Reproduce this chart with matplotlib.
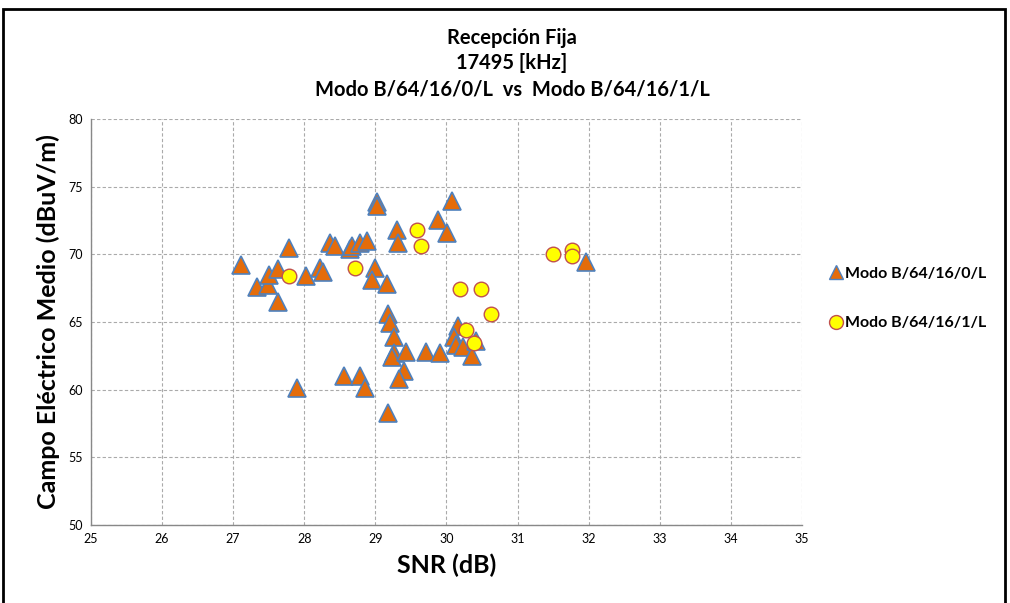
import matplotlib
matplotlib.use('Agg')
import matplotlib.pyplot as plt
from matplotlib.lines import Line2D
from matplotlib.patches import Rectangle

plt.rcParams['font.family'] = ['Lato', 'DejaVu Sans']

# Modo B/64/16/0/L
snr_0 = [27.11, 27.78, 27.34, 27.49, 27.50, 27.63, 27.63, 28.03, 28.22, 28.27,
         28.36, 28.43, 28.64, 28.67, 28.79, 28.88, 29.03, 29.03, 28.99, 28.95,
         29.16, 29.31, 29.32, 29.88, 30.01, 30.08, 29.18, 29.20, 29.26, 29.26,
         29.24, 29.43, 29.41, 29.34, 29.18, 28.56, 28.78, 28.85, 27.90, 29.71,
         29.91, 30.16, 30.10, 30.14, 30.23, 30.36, 30.42, 31.97]
field_0 = [69.2, 70.5, 67.6, 67.7, 68.5, 68.9, 66.45, 68.4, 69.0, 68.7,
           70.8, 70.6, 70.4, 70.6, 70.8, 71.0, 73.9, 73.6, 69.0, 68.1,
           67.8, 71.8, 70.8, 72.5, 71.6, 73.95, 65.6, 64.9, 63.9, 62.7,
           62.4, 62.8, 61.4, 60.8, 58.25, 61.0, 61.0, 60.1, 60.1, 62.8,
           62.7, 64.7, 63.9, 63.3, 63.15, 62.5, 63.6, 69.4]

# Modo B/64/16/1/L
snr_1 = [27.79, 28.71, 29.58, 29.64, 30.19, 30.49, 30.63, 30.28, 30.39, 31.50, 31.77, 31.77]
field_1 = [68.4, 69.0, 71.8, 70.6, 67.4, 67.4, 65.6, 64.4, 63.45, 70.0, 70.3, 69.9]

labels = ['Modo B/64/16/0/L', 'Modo B/64/16/1/L']
x_ticks = list(range(25, 36))
y_ticks = list(range(50, 81, 5))

fig = plt.figure(figsize=(10.10, 6.03), dpi=100)
ax = fig.add_axes([0.090, 0.1294, 0.704, 0.6733])

ax.plot(snr_0, field_0, linestyle='none', marker='^', markersize=13.5,
        markerfacecolor='#E46C0A', markeredgecolor='#4F81BD', markeredgewidth=1.2)
ax.plot(snr_1, field_1, linestyle='none', marker='o', markersize=10.5,
        markerfacecolor='#FFFF00', markeredgecolor='#C0504D', markeredgewidth=1.0)

ax.set_xlim(25, 35)
ax.set_ylim(50, 80)
ax.set_xticks(x_ticks)
ax.set_yticks(y_ticks)
ax.tick_params(length=0, labelsize=9, pad=6)
ax.grid(True, linestyle=(0, (3, 2)), color='#aaaaaa', linewidth=0.8)

for side in ['top', 'right']:
    ax.spines[side].set_visible(False)
for side in ['left', 'bottom']:
    ax.spines[side].set_color('#888888')
    ax.spines[side].set_linewidth(1.0)

ax.set_xlabel('SNR (dB)', fontsize=18, fontweight='bold', labelpad=6)
ax.set_ylabel('Campo Eléctrico Medio (dBuV/m)', fontsize=18, fontweight='bold', labelpad=6)

fig.text(0.507, 1 - 38 / 603, 'Recepción Fija', ha='center', va='center',
         fontsize=14.5, fontweight='bold')
fig.text(0.507, 1 - 63 / 603, '17495 [kHz]', ha='center', va='center',
         fontsize=14.5, fontweight='bold')
fig.text(0.507, 1 - 90 / 603, 'Modo B/64/16/0/L  vs  Modo B/64/16/1/L', ha='center',
         va='center', fontsize=14.5, fontweight='bold')

handles = [Line2D([0], [0], linestyle='none', marker='^', markersize=10,
                  markerfacecolor='#E46C0A', markeredgecolor='#4F81BD', label=labels[0]),
           Line2D([0], [0], linestyle='none', marker='o', markersize=10,
                  markerfacecolor='#FFFF00', markeredgecolor='#C0504D', label=labels[1])]
leg = fig.legend(handles=handles, loc='center left', bbox_to_anchor=(0.806, 0.505),
                 frameon=False, handletextpad=0.15, handlelength=0.9,
                 labelspacing=2.2, prop={'weight': 'bold', 'size': 11.5})

fig.patches.append(Rectangle((3 / 1010, -0.02), 1002 / 1010, 1.02 - 9 / 603,
                             transform=fig.transFigure, fill=False,
                             edgecolor='black', linewidth=2.0))

fig.savefig('out.png', dpi=100)
